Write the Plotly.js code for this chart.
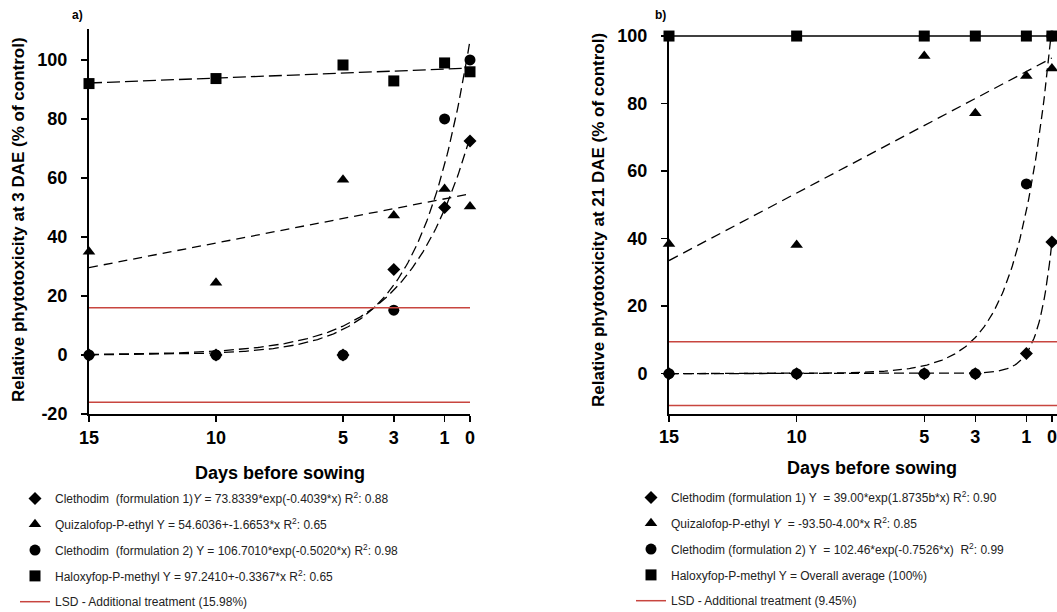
<!DOCTYPE html>
<html>
<head>
<meta charset="utf-8">
<script src="https://cdn.plot.ly/plotly-3.0.1.min.js"></script>
<style>html,body{margin:0;padding:0;background:#fff;overflow:hidden;}#chart{width:1057px;}</style>
</head>
<body>
<div id="chart"></div>
<script>
// ---- Tick labels / categories ----
const xTicks = [15, 10, 5, 3, 1, 0];
const yTicksA = [-20, 0, 20, 40, 60, 80, 100];
const yTicksB = [0, 20, 40, 60, 80, 100];

// ---- Axis titles ----
const xTitle = 'Days before sowing';
const yTitleA = 'Relative phytotoxicity at 3 DAE (% of control)';
const yTitleB = 'Relative phytotoxicity at 21 DAE (% of control)';

// ---- Panel a) observed values (3 DAE) ----
const daysA = [15, 10, 5, 3, 1, 0];
const aClethodim1 = [0, 0, 0, 29, 50, 72.5];
const aQuizalofop = [35, 24.5, 59.4, 47.3, 56.3, 50.3];
const aClethodim2 = [0, 0, 0, 15.2, 80, 100];
const aHaloxyfop = [92, 93.7, 98.3, 92.9, 99, 96];
const aLSD = 15.98;

// ---- Panel b) observed values (21 DAE) ----
const daysB = [15, 10, 5, 3, 1, 0];
const bClethodim1 = [0, 0, 0, 0, 6, 39];
const bQuizalofop = [38.4, 38.1, 94.1, 77.1, 88.2, 90.4];
const bClethodim2 = [0, 0, 0, 0, 56.2, 100];
const bHaloxyfop = [100, 100, 100, 100, 100, 100];
const bLSD = 9.45;

// ---- Fitted model coefficients as printed in the legends ----
const aFitClethodim1 = [73.8339, -0.4039];   // a*exp(b*x)
const aFitQuizalofop = [54.6036, -1.6653];   // a + b*x
const aFitClethodim2 = [106.7010, -0.5020];  // a*exp(b*x)
const aFitHaloxyfop = [97.2410, -0.3367];    // a + b*x
const bFitClethodim1 = [39.00, -1.8735];     // a*exp(b*x)
const bFitQuizalofop = [93.50, -4.00];       // a + b*x
const bFitClethodim2 = [102.46, -0.7526];    // a*exp(b*x)
const bFitHaloxyfop = [100];                 // overall average

// ---- Legend labels ----
const legA = [
  'Clethodim\u00a0 (formulation 1)<i>Y</i> = 73.8339*exp(-0.4039*x) R<sup>2</sup>: 0.88',
  'Quizalofop-P-ethyl Y = 54.6036+-1.6653*x R<sup>2</sup>: 0.65',
  'Clethodim\u00a0 (formulation 2) Y = 106.7010*exp(-0.5020*x) R<sup>2</sup>: 0.98',
  'Haloxyfop-P-methyl Y = 97.2410+-0.3367*x R<sup>2</sup>: 0.65',
  'LSD - Additional treatment (15.98%)'
];
const legB = [
  'Clethodim (formulation 1) Y \u00a0= 39.00*exp(1.8735b*x) R<sup>2</sup>: 0.90',
  'Quizalofop-P-ethyl <i>Y</i> \u00a0= -93.50-4.00*x R<sup>2</sup>: 0.85',
  'Clethodim (formulation 2) Y \u00a0= 102.46*exp(-0.7526*x) \u00a0R<sup>2</sup>: 0.99',
  'Haloxyfop-P-methyl Y = Overall average (100%)',
  'LSD - Additional treatment (9.45%)'
];

// model evaluation grid (x from 15 down to 0)
const grid = [];
for (let i = 0; i <= 300; i++) grid.push(15 - i * 0.05);
const expFit = c => grid.map(x => c[0] * Math.exp(c[1] * x));
const linFit = c => grid.map(x => c[0] + c[1] * x);

const RED = '#c8453f';
const F = 'Arial, "Liberation Sans", sans-serif';

function markerTrace(x, y, sym, size, name, xa, ya, leg) {
  return {x: x, y: y, type: 'scatter', mode: 'markers', name: name,
    xaxis: xa, yaxis: ya, legend: leg, legendgroup: leg + name, cliponaxis: false,
    marker: {symbol: sym, size: size, color: '#000'}};
}
function fitTrace(y, xa, ya, dash, x) {
  return {x: x || grid, y: y, type: 'scatter', mode: 'lines', showlegend: false,
    xaxis: xa, yaxis: ya, hoverinfo: 'skip',
    line: {color: '#000', width: 1.3, dash: dash}};
}

const xRangeA = [15, 0];
const xRangeB = [15, -0.2];

const traces = [
  // panel a fits
  fitTrace(expFit(aFitClethodim1), 'x', 'y', '10px,5px'),
  fitTrace(linFit(aFitQuizalofop), 'x', 'y', '9px,6px'),
  fitTrace(expFit(aFitClethodim2), 'x', 'y', '10px,5px'),
  fitTrace(linFit(aFitHaloxyfop), 'x', 'y', '13px,5px'),
  // panel a markers
  markerTrace(daysA, aClethodim1, 'diamond', 10, legA[0], 'x', 'y', 'legend'),
  markerTrace(daysA, aQuizalofop, 'triangle-up', 11, legA[1], 'x', 'y', 'legend'),
  markerTrace(daysA, aClethodim2, 'circle', 11, legA[2], 'x', 'y', 'legend'),
  markerTrace(daysA, aHaloxyfop, 'square', 11, legA[3], 'x', 'y', 'legend'),
  {x: [xRangeA[0], xRangeA[1], null, xRangeA[0], xRangeA[1]], y: [aLSD, aLSD, null, -aLSD, -aLSD],
   type: 'scatter', mode: 'lines', name: legA[4], xaxis: 'x', yaxis: 'y', legend: 'legend',
   legendgroup: 'aLSD', line: {color: RED, width: 1.5}, hoverinfo: 'skip'},

  // panel b fits
  fitTrace(expFit(bFitClethodim1), 'x2', 'y2', '10px,5px'),
  fitTrace(linFit(bFitQuizalofop), 'x2', 'y2', '10px,6px'),
  fitTrace(expFit(bFitClethodim2), 'x2', 'y2', '9px,5px'),
  {x: [xTicks[0], xTicks[xTicks.length - 1]], y: [bFitHaloxyfop[0], bFitHaloxyfop[0]], type: 'scatter',
   mode: 'lines', showlegend: false, xaxis: 'x2', yaxis: 'y2', hoverinfo: 'skip',
   line: {color: '#000', width: 1.6}},
  // panel b markers
  markerTrace(daysB, bClethodim1, 'diamond', 10, legB[0], 'x2', 'y2', 'legend2'),
  markerTrace(daysB, bQuizalofop, 'triangle-up', 11, legB[1], 'x2', 'y2', 'legend2'),
  markerTrace(daysB, bClethodim2, 'circle', 11, legB[2], 'x2', 'y2', 'legend2'),
  markerTrace(daysB, bHaloxyfop, 'square', 11, legB[3], 'x2', 'y2', 'legend2'),
  {x: [xRangeB[0], xRangeB[1], null, xRangeB[0], xRangeB[1]], y: [bLSD, bLSD, null, -bLSD, -bLSD],
   type: 'scatter', mode: 'lines', name: legB[4], xaxis: 'x2', yaxis: 'y2', legend: 'legend2',
   legendgroup: 'bLSD', line: {color: RED, width: 1.5}, hoverinfo: 'skip'}
];

// figure is a bit taller than the 612px window so the legends are not pushed up
const W = 1057, H = 640;
const axCommon = {
  showline: true, linecolor: '#000', linewidth: 2, ticks: 'outside', ticklen: 6, tickwidth: 1.5,
  tickcolor: '#000', showgrid: false, zeroline: false, automargin: false,
  tickfont: {family: F, size: 18, color: '#000', weight: 'bold'}, tickmode: 'array'
};
const xTitleFont = {family: F, size: 18, color: '#000', weight: 'bold'};
const yTitleFont = {family: F, size: 17, color: '#000', weight: 'bold'};
const px = (x, y) => ({x: x / W, y: (H - y) / H});
function titleAnn(text, pos, font, angle) {
  return Object.assign({text: text, xref: 'paper', yref: 'paper', showarrow: false,
    xanchor: 'center', yanchor: 'middle', textangle: angle || 0, font: font}, pos);
}

const layout = {
  width: W, height: H, margin: {l: 0, r: 0, t: 0, b: 0},
  paper_bgcolor: '#fff', plot_bgcolor: 'rgba(0,0,0,0)', showlegend: true,
  xaxis: Object.assign({}, axCommon, {domain: [89 / W, 470 / W], range: xRangeA, anchor: 'y',
    tickvals: xTicks, ticktext: xTicks.map(String), ticklabelstandoff: 6.5}),
  yaxis: Object.assign({}, axCommon, {domain: [(H - 414) / H, (H - 29) / H], range: [-20, 110.5], anchor: 'x',
    tickvals: yTicksA, ticktext: yTicksA.map(String), ticklabelstandoff: 10}),
  xaxis2: Object.assign({}, axCommon, {domain: [669 / W, 1], range: xRangeB, anchor: 'y2',
    tickvals: xTicks, ticktext: xTicks.map(String), ticklabelstandoff: 6.5}),
  yaxis2: Object.assign({}, axCommon, {domain: [(H - 413.7) / H, (H - 33) / H], range: [-11.85, 100.9], anchor: 'x2',
    tickvals: yTicksB, ticktext: yTicksB.map(String), ticklabelstandoff: 10}),
  legend: {x: 15 / W, y: (H - 484) / H, xanchor: 'left', yanchor: 'top', bgcolor: 'rgba(0,0,0,0)',
    font: {family: F, size: 12, color: '#222'}, traceorder: 'grouped', tracegroupgap: 6.8,
    itemclick: false, itemdoubleclick: false},
  legend2: {x: 631 / W, y: (H - 483) / H, xanchor: 'left', yanchor: 'top', bgcolor: 'rgba(0,0,0,0)',
    font: {family: F, size: 12, color: '#222'}, traceorder: 'grouped', tracegroupgap: 6.8,
    itemclick: false, itemdoubleclick: false},
  annotations: [
    titleAnn(xTitle, px(279.5, 473), xTitleFont),
    titleAnn(xTitle, px(872, 468), xTitleFont),
    titleAnn(yTitleA, px(18, 220), yTitleFont, -90),
    titleAnn(yTitleB, px(598, 220), yTitleFont, -90),
    titleAnn('a)', px(77, 15), {family: F, size: 12, color: '#000', weight: 'bold'}),
    titleAnn('b)', px(660, 15), {family: F, size: 12, color: '#000', weight: 'bold'})
  ]
};

Plotly.newPlot('chart', traces, layout, {staticPlot: true, displayModeBar: false});
</script>
</body>
</html>
